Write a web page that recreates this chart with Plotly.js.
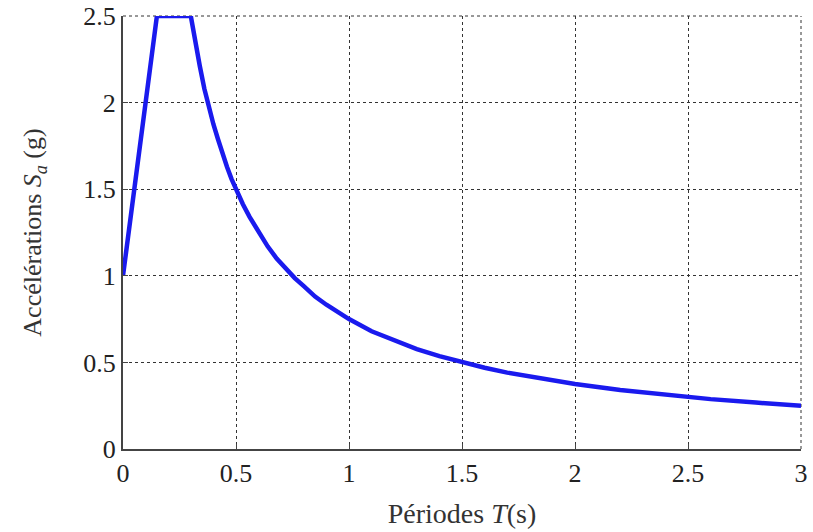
<!DOCTYPE html>
<html>
<head>
<meta charset="utf-8">
<script src="https://cdn.plot.ly/plotly-3.0.1.min.js"></script>
<style>html,body{margin:0;padding:0;background:#fff;}#chart{width:813px;height:532px;}</style>
</head>
<body>
<div id="chart"></div>
<script>
// Périodes T (s)
const periods = [0, 0.15, 0.30, 0.32, 0.34, 0.36, 0.38, 0.40, 0.42, 0.44, 0.46, 0.48, 0.50, 0.53, 0.56, 0.60, 0.64, 0.68, 0.72, 0.76, 0.80, 0.85, 0.90, 0.95, 1.00, 1.10, 1.20, 1.30, 1.40, 1.50, 1.60, 1.70, 1.80, 1.90, 2.00, 2.20, 2.40, 2.60, 2.80, 3.00];
// Accélérations Sa (g)
const accelerations = [1.00, 2.50, 2.50, 2.34, 2.21, 2.08, 1.97, 1.875, 1.79, 1.70, 1.63, 1.56, 1.50, 1.415, 1.34, 1.25, 1.17, 1.10, 1.04, 0.987, 0.94, 0.88, 0.833, 0.79, 0.75, 0.68, 0.625, 0.577, 0.536, 0.50, 0.469, 0.441, 0.417, 0.395, 0.375, 0.341, 0.3125, 0.288, 0.268, 0.25];
const xTicks = [0, 0.5, 1, 1.5, 2, 2.5, 3];
const xTickLabels = ['0', '0.5', '1', '1.5', '2', '2.5', '3'];
const yTicks = [0, 0.5, 1, 1.5, 2, 2.5];
const yTickLabels = ['0', '0.5', '1', '1.5', '2', '2.5'];

const fontFamily = '"Liberation Serif", "DejaVu Serif", serif';

const trace = {
  x: periods,
  y: accelerations,
  type: 'scatter',
  mode: 'lines',
  line: {color: '#1a1aee', width: 4.5},
  hoverinfo: 'skip',
  cliponaxis: false
};

const frameLine = {color: '#333', width: 1, dash: 'dot'};

const layout = {
  width: 813,
  height: 532,
  margin: {l: 123, r: 12, t: 16, b: 83},
  paper_bgcolor: '#ffffff',
  plot_bgcolor: '#ffffff',
  showlegend: false,
  font: {family: fontFamily, size: 26, color: '#222'},
  shapes: [
    {type: 'line', xref: 'paper', yref: 'paper', x0: 0, x1: 1, y0: 1, y1: 1, line: frameLine, layer: 'below'},
    {type: 'line', xref: 'paper', yref: 'paper', x0: 1, x1: 1, y0: 0, y1: 1, line: frameLine, layer: 'below'}
  ],
  xaxis: {
    range: [0, 3],
    tickvals: xTicks,
    ticktext: xTickLabels,
    showgrid: true,
    gridcolor: '#333',
    griddash: 'dot',
    gridwidth: 1,
    zeroline: false,
    showline: true,
    linecolor: '#444',
    linewidth: 2,
    ticks: 'inside',
    ticklen: 5,
    tickcolor: '#444',
    tickfont: {family: fontFamily, size: 26, color: '#222'},
    title: {text: 'Périodes <i>T</i>(s)', font: {family: fontFamily, size: 28, color: '#333'}, standoff: 16}
  },
  yaxis: {
    range: [0, 2.5],
    tickvals: yTicks,
    ticktext: yTickLabels,
    showgrid: true,
    gridcolor: '#333',
    griddash: 'dot',
    gridwidth: 1,
    zeroline: false,
    showline: true,
    linecolor: '#444',
    linewidth: 2,
    ticks: 'inside',
    ticklen: 5,
    tickcolor: '#444',
    tickfont: {family: fontFamily, size: 26, color: '#222'},
    title: {text: 'Accélérations <i>S<sub>a</sub></i> (g)', font: {family: fontFamily, size: 26, color: '#333'}, standoff: 34}
  }
};

Plotly.newPlot('chart', [trace], layout, {displayModeBar: false, staticPlot: true});
</script>
</body>
</html>
